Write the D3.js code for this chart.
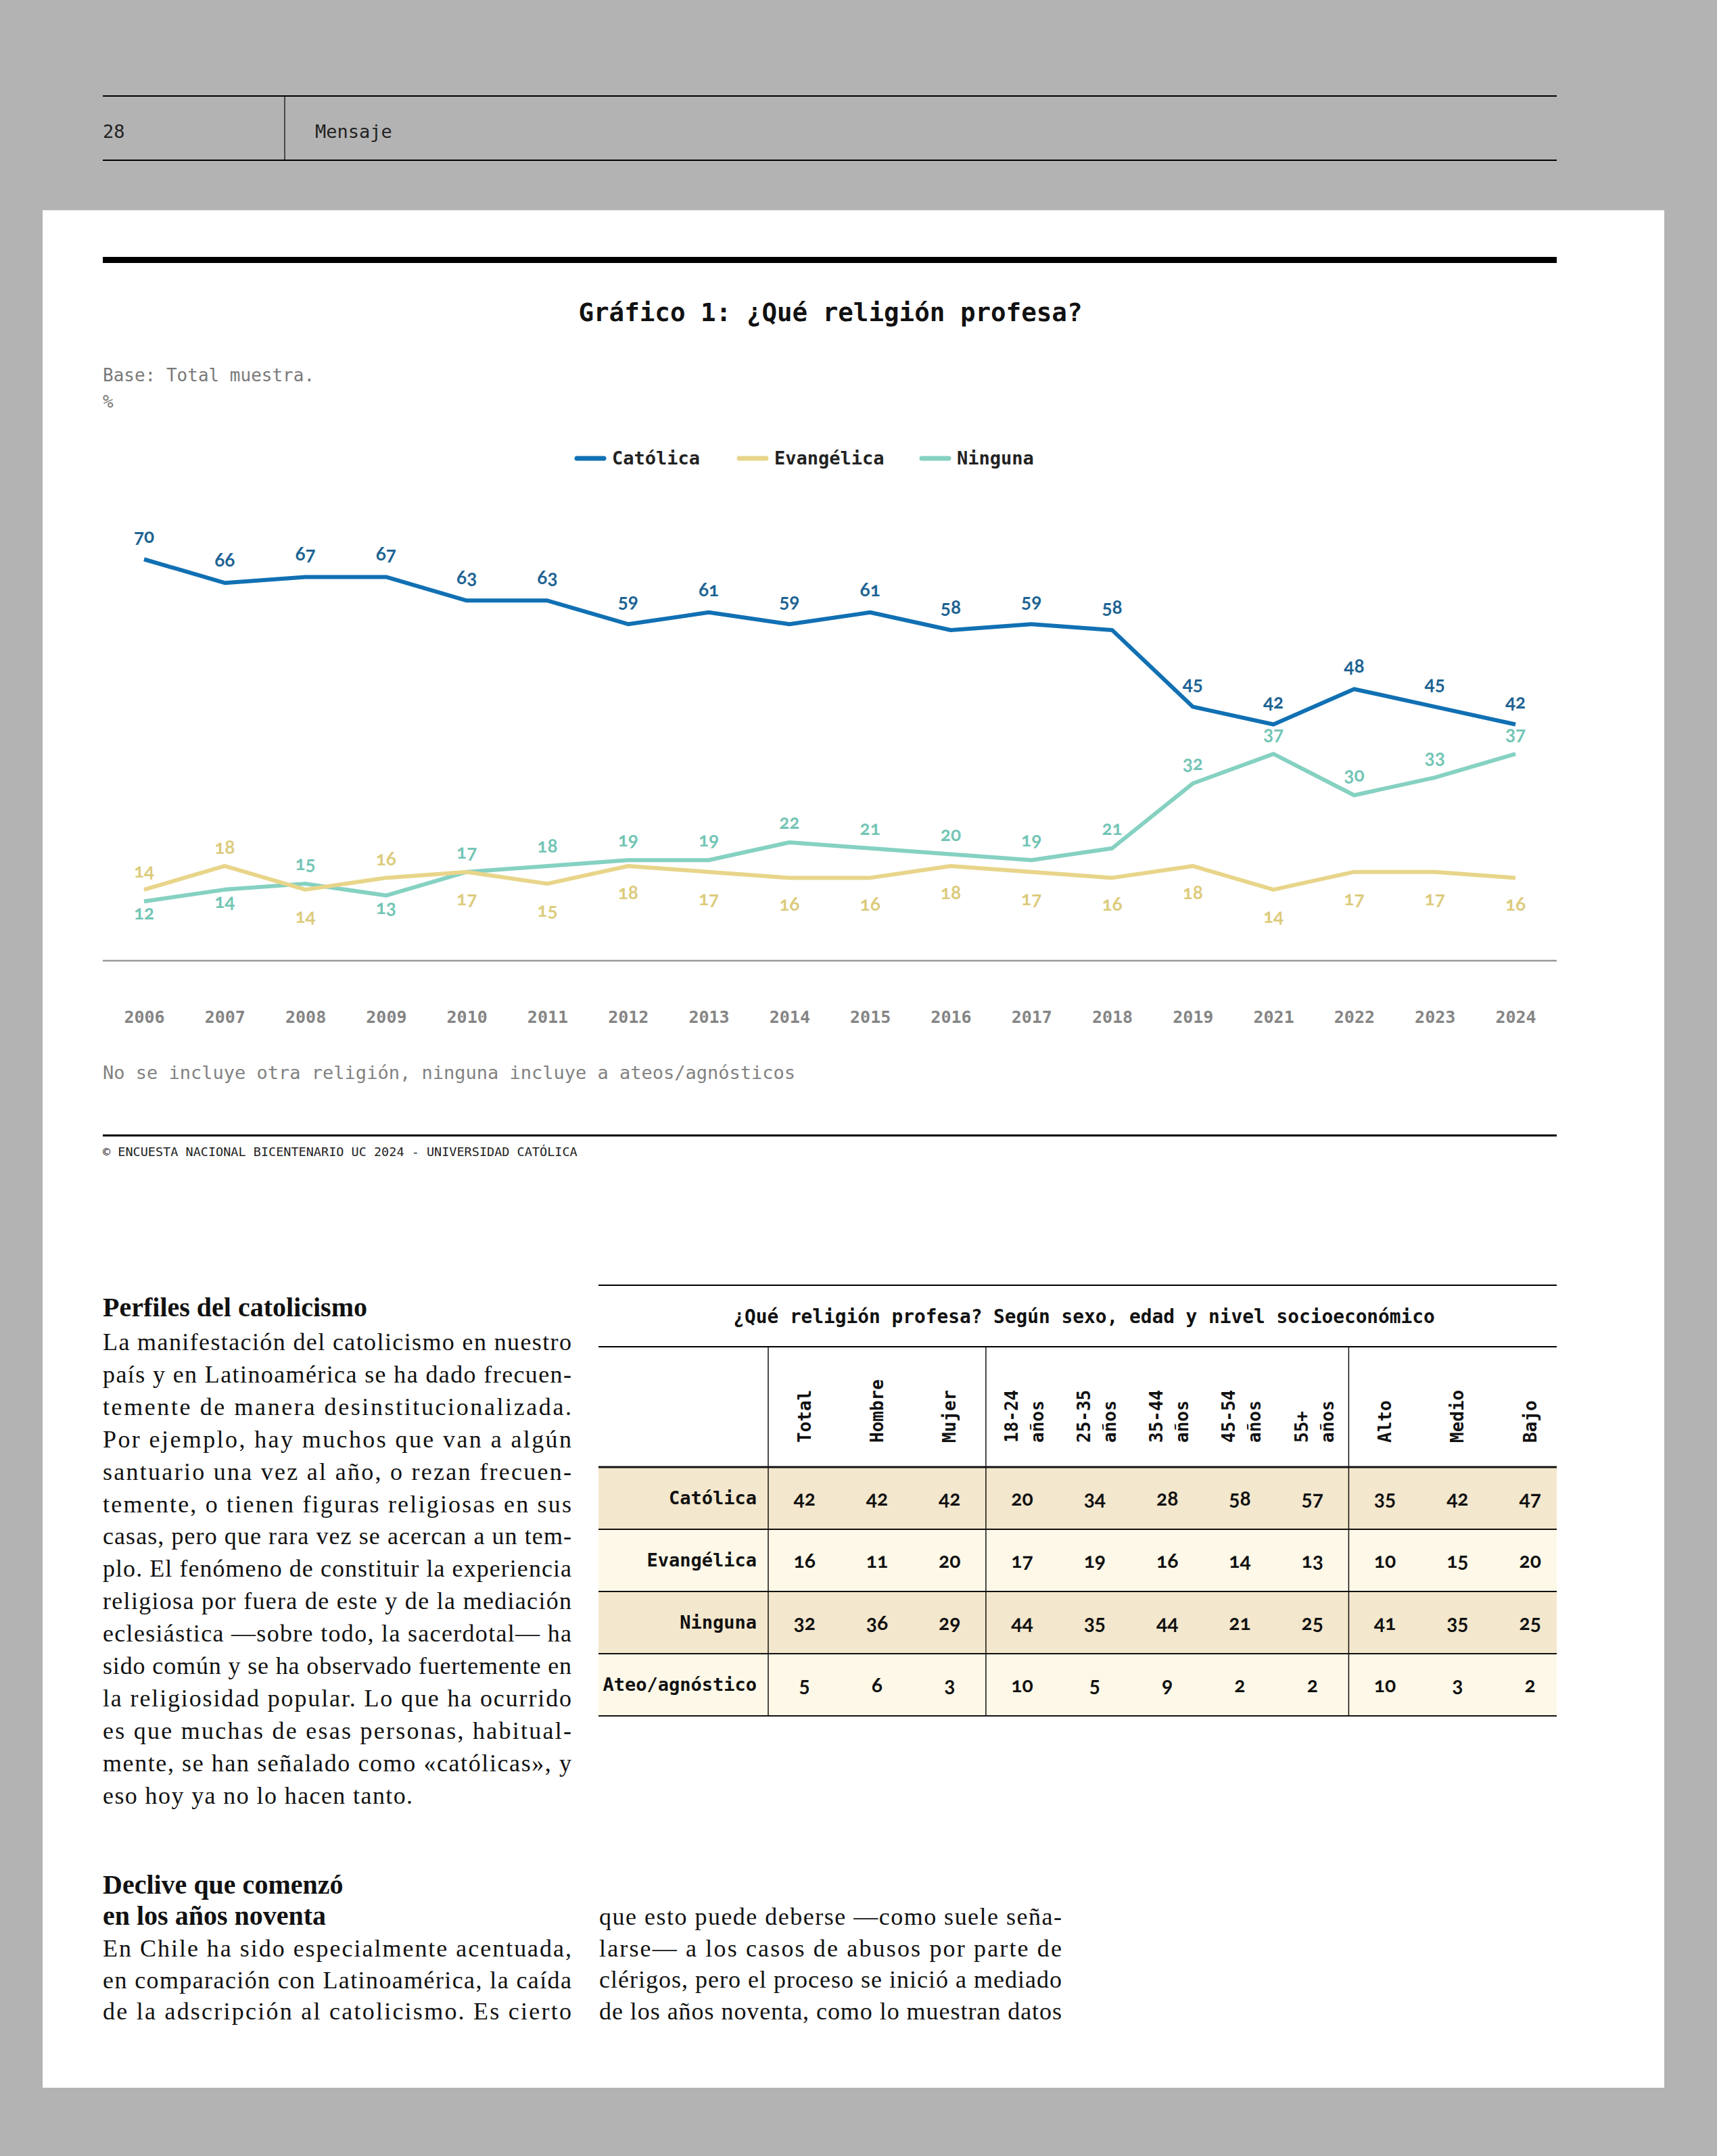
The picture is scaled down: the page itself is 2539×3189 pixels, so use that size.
<!DOCTYPE html>
<html>
<head>
<meta charset="utf-8">
<script src="https://cdn.jsdelivr.net/npm/d3@7"></script>
<style>
  body { margin: 0; background: #b3b3b3; }
  svg { display: block; }
  .mono { font-family: "DejaVu Sans Mono", "Liberation Mono", monospace; }
  .num { font-family: Lato, "Open Sans", sans-serif; font-variant-numeric: oldstyle-nums; font-feature-settings: "onum" 1; }
  .serif { font-family: "Liberation Serif", "DejaVu Serif", serif; }
</style>
</head>
<body>
<svg id="page"></svg>
<script>

// chart data
var years = ["2006","2007","2008","2009","2010","2011","2012","2013","2014","2015","2016","2017","2018","2019","2021","2022","2023","2024"];
var catolica   = [70,66,67,67,63,63,59,61,59,61,58,59,58,45,42,48,45,42];
var evangelica = [14,18,14,16,17,15,18,17,16,16,18,17,16,18,14,17,17,16];
var ninguna    = [12,14,15,13,17,18,19,19,22,21,20,19,21,32,37,30,33,37];
var seriesNames = ["Católica","Evangélica","Ninguna"];

// table data
var tableCols = [["Total"],["Hombre"],["Mujer"],["18-24","años"],["25-35","años"],["35-44","años"],["45-54","años"],["55+","años"],["Alto"],["Medio"],["Bajo"]];
var tableRows = ["Católica","Evangélica","Ninguna","Ateo/agnóstico"];
var rowCatolica   = [42,42,42,20,34,28,58,57,35,42,47];
var rowEvangelica = [16,11,20,17,19,16,14,13,10,15,20];
var rowNinguna    = [32,36,29,44,35,44,21,25,41,35,25];
var rowAteo       = [5,6,3,10,5,9,2,2,10,3,2];

// article text
var perfilesLines = [
  "La manifestación del catolicismo en nuestro",
  "país y en Latinoamérica se ha dado frecuen-",
  "temente de manera desinstitucionalizada.",
  "Por ejemplo, hay muchos que van a algún",
  "santuario una vez al año, o rezan frecuen-",
  "temente, o tienen figuras religiosas en sus",
  "casas, pero que rara vez se acercan a un tem-",
  "plo. El fenómeno de constituir la experiencia",
  "religiosa por fuera de este y de la mediación",
  "eclesiástica —sobre todo, la sacerdotal— ha",
  "sido común y se ha observado fuertemente en",
  "la religiosidad popular. Lo que ha ocurrido",
  "es que muchas de esas personas, habitual-",
  "mente, se han señalado como «católicas», y",
  "eso hoy ya no lo hacen tanto."
];
var decliveLeft = [
  "En Chile ha sido especialmente acentuada,",
  "en comparación con Latinoamérica, la caída",
  "de la adscripción al catolicismo. Es cierto"
];
var decliveRight = [
  "que esto puede deberse —como suele seña-",
  "larse— a los casos de abusos por parte de",
  "clérigos, pero el proceso se inició a mediado",
  "de los años noventa, como lo muestran datos"
];

var W = 2539, H = 3189;
var L = 152, R = 2302;

var svg = d3.select("#page").attr("width", W).attr("height", H);

svg.append("rect").attr("width", W).attr("height", H).attr("fill", "#b3b3b3");

// running header
svg.append("line").attr("x1", L).attr("x2", R).attr("y1", 142).attr("y2", 142).attr("stroke", "#000").attr("stroke-width", 2);
svg.append("line").attr("x1", L).attr("x2", R).attr("y1", 237).attr("y2", 237).attr("stroke", "#000").attr("stroke-width", 2);
svg.append("line").attr("x1", 421).attr("x2", 421).attr("y1", 142).attr("y2", 237).attr("stroke", "#000").attr("stroke-width", 1.2);
svg.append("text").attr("class", "mono").attr("x", L).attr("y", 204).attr("font-size", 27).attr("fill", "#222").text("28");
svg.append("text").attr("class", "mono").attr("x", 466).attr("y", 204).attr("font-size", 27).attr("fill", "#222").text("Mensaje");

// white page
svg.append("rect").attr("x", 63).attr("y", 311).attr("width", 2398).attr("height", 2777).attr("fill", "#fff");

svg.append("rect").attr("x", L).attr("y", 380).attr("width", R - L).attr("height", 9).attr("fill", "#000");

svg.append("text").attr("class", "mono").attr("x", 1228).attr("y", 475).attr("text-anchor", "middle")
  .attr("font-size", 37.5).attr("font-weight", "bold").attr("fill", "#111").text("Gráfico 1: ¿Qué religión profesa?");

svg.append("text").attr("class", "mono").attr("x", L).attr("y", 564).attr("font-size", 26).attr("fill", "#7a7a7a").text("Base: Total muestra.");
svg.append("text").attr("class", "mono").attr("x", L).attr("y", 603).attr("font-size", 26).attr("fill", "#7a7a7a").text("%");

// scales
var x = d3.scalePoint().domain(years).range([213, 2241]);
var y = d3.scaleLinear().domain([0, 80]).range([1438, 740]);
var color = d3.scaleOrdinal().domain(seriesNames).range(["#1170b3", "#e8d58a", "#85d1c2"]);
var labelColor = d3.scaleOrdinal().domain(seriesNames).range(["#1d6393", "#dccb7c", "#73c5b5"]);

// legend
var legendX = [850, 1090, 1360];
var legend = svg.append("g").selectAll("g").data(seriesNames).enter().append("g")
  .attr("transform", function(d, i){ return "translate(" + legendX[i] + ",678)"; });
legend.append("line").attr("x1", 3).attr("x2", 43).attr("stroke", function(d){ return color(d); })
  .attr("stroke-width", 7).attr("stroke-linecap", "round");
legend.append("text").attr("class", "mono").attr("x", 55).attr("y", 9).attr("font-size", 27).attr("font-weight", "bold")
  .attr("fill", "#222").text(function(d){ return d; });

// axis
svg.append("line").attr("x1", L).attr("x2", R).attr("y1", 1421).attr("y2", 1421).attr("stroke", "#999").attr("stroke-width", 2.5);
var axis = svg.append("g").attr("transform", "translate(0,1421)")
  .call(d3.axisBottom(x).tickSize(0).tickPadding(74));
axis.select(".domain").remove();
axis.selectAll("text").attr("class", "mono").attr("font-size", 25).attr("font-weight", "bold").attr("fill", "#858585");

// lines
var series = [
  { name: "Ninguna", values: ninguna },
  { name: "Evangélica", values: evangelica },
  { name: "Católica", values: catolica }
];
var line = d3.line().x(function(d, i){ return x(years[i]); }).y(function(d){ return y(d); });
svg.append("g").selectAll("path").data(series).enter().append("path")
  .attr("d", function(d){ return line(d.values); })
  .attr("fill", "none").attr("stroke", function(d){ return color(d.name); })
  .attr("stroke-width", 6).attr("stroke-linejoin", "round");

// value labels
var labels = [];
years.forEach(function(yr, i){
  labels.push({ name: "Católica", yr: yr, v: catolica[i], dy: -24 });
  var nUp = ninguna[i] >= evangelica[i];
  labels.push({ name: "Ninguna", yr: yr, v: ninguna[i], dy: nUp ? -20 : 27 });
  labels.push({ name: "Evangélica", yr: yr, v: evangelica[i], dy: nUp ? 49 : -18 });
});
svg.append("g").selectAll("text").data(labels).enter().append("text")
  .attr("class", "num").attr("x", function(d){ return x(d.yr); }).attr("y", function(d){ return y(d.v) + d.dy; })
  .attr("text-anchor", "middle").attr("font-size", 28).attr("font-weight", "bold")
  .attr("fill", function(d){ return labelColor(d.name); }).text(function(d){ return d.v; });

svg.append("text").attr("class", "mono").attr("x", L).attr("y", 1596).attr("font-size", 27).attr("fill", "#828282")
  .text("No se incluye otra religión, ninguna incluye a ateos/agnósticos");

svg.append("rect").attr("x", L).attr("y", 1678).attr("width", R - L).attr("height", 3).attr("fill", "#000");
svg.append("text").attr("class", "mono").attr("x", L).attr("y", 1710).attr("font-size", 18.5).attr("fill", "#222")
  .text("© ENCUESTA NACIONAL BICENTENARIO UC 2024 - UNIVERSIDAD CATÓLICA");

// table
var TL = 885;
var tx = d3.scaleBand().domain(d3.range(tableCols.length)).range([1136, 1136 + 11 * 107.3]);
var ty = d3.scaleBand().domain(tableRows).range([2170, 2538]);
var tableValues = [rowCatolica, rowEvangelica, rowNinguna, rowAteo];
var rowFill = ["#f3e7cd", "#fdf8e7", "#f3e7cd", "#fdf8e7"];

var tbl = svg.append("g");
tbl.selectAll("rect.row").data(tableRows).enter().append("rect").attr("class", "row")
  .attr("x", TL).attr("y", function(d){ return ty(d); }).attr("width", R - TL).attr("height", ty.bandwidth())
  .attr("fill", function(d, i){ return rowFill[i]; });

tbl.append("line").attr("x1", TL).attr("x2", R).attr("y1", 1901).attr("y2", 1901).attr("stroke", "#000").attr("stroke-width", 2);
tbl.append("text").attr("class", "mono").attr("x", 1603).attr("y", 1957).attr("text-anchor", "middle")
  .attr("font-size", 27.8).attr("font-weight", "bold").attr("fill", "#111")
  .text("¿Qué religión profesa? Según sexo, edad y nivel socioeconómico");
tbl.append("line").attr("x1", TL).attr("x2", R).attr("y1", 1992).attr("y2", 1992).attr("stroke", "#000").attr("stroke-width", 2);

var hlines = [2170].concat(tableRows.map(function(d){ return ty(d) + ty.bandwidth(); }));
tbl.selectAll("line.h").data(hlines).enter().append("line").attr("class", "h")
  .attr("x1", TL).attr("x2", R).attr("y1", function(d){ return d; }).attr("y2", function(d){ return d; })
  .attr("stroke", "#111").attr("stroke-width", function(d, i){ return i === 0 ? 3 : 2; });
tbl.selectAll("line.v").data([0, 3, 8]).enter().append("line").attr("class", "v")
  .attr("x1", function(d){ return tx(d); }).attr("x2", function(d){ return tx(d); })
  .attr("y1", 1992).attr("y2", 2538).attr("stroke", "#111").attr("stroke-width", 1.5);

// rotated column headers
var head = tbl.selectAll("g.head").data(tableCols).enter().append("g").attr("class", "head")
  .attr("transform", function(d, i){ return "translate(" + (tx(i) + tx.bandwidth() / 2) + ",2134) rotate(-90)"; });
head.selectAll("text").data(function(d){ return d; }).enter().append("text")
  .attr("class", "mono").attr("x", 0)
  .attr("y", function(d, j, nodes){ return nodes.length === 1 ? 9 : (j === 0 ? -7 : 31); })
  .attr("font-size", 26).attr("font-weight", "bold").attr("fill", "#111").text(function(d){ return d; });

tbl.selectAll("text.rowlab").data(tableRows).enter().append("text").attr("class", "mono rowlab")
  .attr("x", 1119).attr("y", function(d){ return ty(d) + ty.bandwidth() / 2 + 9; }).attr("text-anchor", "end")
  .attr("font-size", 27).attr("font-weight", "bold").attr("fill", "#111").text(function(d){ return d; });

tableRows.forEach(function(r, ri){
  tbl.append("g").selectAll("text").data(tableValues[ri]).enter().append("text")
    .attr("class", "num").attr("x", function(d, i){ return tx(i) + tx.bandwidth() / 2; })
    .attr("y", ty(r) + ty.bandwidth() / 2 + 11).attr("text-anchor", "middle")
    .attr("font-size", 30).attr("font-weight", "bold").attr("fill", "#111").text(function(d){ return d; });
});

// article text (justified lines)
function column(lines, x0, width, y0, step, lastFree) {
  svg.append("g").selectAll("text").data(lines).enter().append("text")
    .attr("class", "serif").attr("x", x0).attr("y", function(d, i){ return y0 + i * step; })
    .attr("font-size", 36).attr("fill", "#111")
    .each(function(d, i){
      if (!(lastFree && i === lines.length - 1)) {
        d3.select(this).attr("textLength", width).attr("lengthAdjust", "spacing");
      } else {
        d3.select(this).attr("letter-spacing", 1.4);
      }
    })
    .text(function(d){ return d; });
}

svg.append("text").attr("class", "serif").attr("x", L).attr("y", 1947).attr("font-size", 40).attr("font-weight", "bold")
  .attr("fill", "#111").text("Perfiles del catolicismo");
column(perfilesLines, L, 693, 1997, 47.9, true);

svg.append("text").attr("class", "serif").attr("x", L).attr("y", 2801).attr("font-size", 40).attr("font-weight", "bold")
  .attr("fill", "#111").text("Declive que comenzó");
svg.append("text").attr("class", "serif").attr("x", L).attr("y", 2847).attr("font-size", 40).attr("font-weight", "bold")
  .attr("fill", "#111").text("en los años noventa");
column(decliveLeft, L, 693, 2894, 46.5, false);
column(decliveRight, 886, 684, 2847, 46.5, false);

</script>
</body>
</html>
